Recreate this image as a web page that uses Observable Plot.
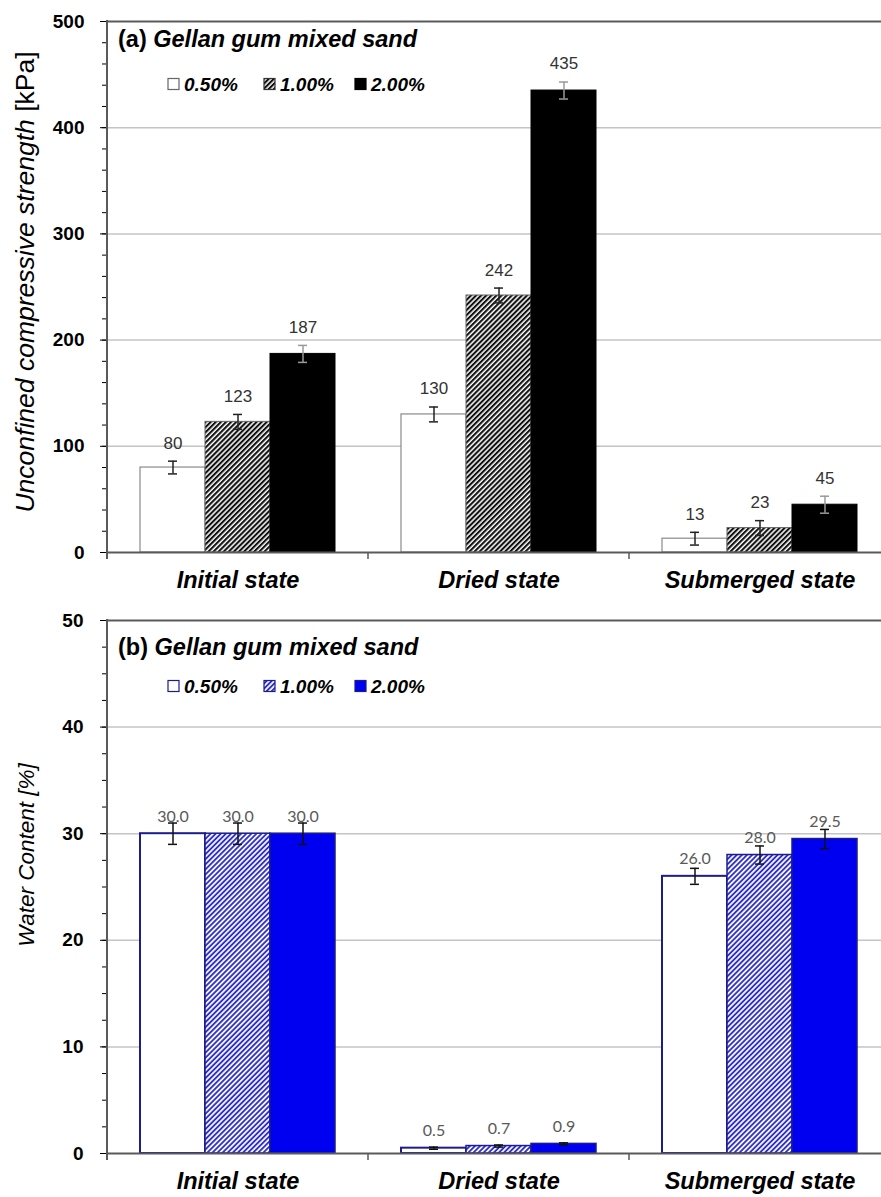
<!DOCTYPE html>
<html>
<head>
<meta charset="utf-8">
<script src="https://cdn.jsdelivr.net/npm/d3@7"></script>
<script src="https://cdn.jsdelivr.net/npm/@observablehq/plot@0.6"></script>
<style>
  html, body { margin: 0; padding: 0; background: #fff; }
  #wrap { position: relative; width: 881px; height: 1197px; overflow: hidden; background: #fff; }
  .panel { position: absolute; left: 0; }
</style>
</head>
<body>
<svg width="0" height="0" style="position:absolute">
  <defs>
    <pattern id="hatchK" patternUnits="userSpaceOnUse" width="3.6" height="3.6" patternTransform="rotate(45)">
      <rect width="3.6" height="3.6" fill="#fff"></rect>
      <line x1="1" y1="0" x2="1" y2="3.6" stroke="#111" stroke-width="2.2"></line>
    </pattern>
    <pattern id="hatchB" patternUnits="userSpaceOnUse" width="3.6" height="3.6" patternTransform="rotate(45)">
      <rect width="3.6" height="3.6" fill="#fff"></rect>
      <line x1="1" y1="0" x2="1" y2="3.6" stroke="#2424c8" stroke-width="1.8"></line>
    </pattern>
  </defs>
</svg>
<div id="wrap"></div>
<script>
// ---------------- data ----------------
const states = ["Initial state", "Dried state", "Submerged state"];
const concs = ["0.50%", "1.00%", "2.00%"];

// (a) unconfined compressive strength [kPa]
const ucsValues = [[80, 123, 187], [130, 242, 435], [13, 23, 45]];
const ucsErrors = [[6, 7, 8], [7, 7, 8], [6, 7, 8]];
const ucsTicks = [0, 100, 200, 300, 400, 500];
const ucsGrid = [100, 200, 300, 400];

// (b) water content [%]
const wcValues = [[30.0, 30.0, 30.0], [0.5, 0.7, 0.9], [26.0, 28.0, 29.5]];
const wcErrors = [[1.0, 1.0, 1.0], [0.1, 0.1, 0.1], [0.75, 0.85, 0.9]];
const wcTicks = [0, 10, 20, 30, 40, 50];
const wcGrid = [10, 20, 30, 40];

const toRows = (vals, errs) => states.flatMap((s, i) => concs.map((c, j) => ({state: s, conc: c, v: vals[i][j], e: errs[i][j]})));
const ucsRows = toRows(ucsValues, ucsErrors);
const wcRows = toRows(wcValues, wcErrors);

const FONT = "Liberation Sans, Arial, Helvetica, sans-serif";

function makePanel(cfg) {
  const marks = [
    Plot.ruleY(cfg.grid, {stroke: "#c4c4c4", strokeWidth: 1.5}),
    Plot.ruleY([cfg.yMax], {stroke: "#5a5a5a", strokeWidth: 2})
  ];
  concs.forEach((c, j) => {
    const rows = cfg.rows.filter(d => d.conc === c);
    marks.push(Plot.barY(rows, {
      fx: "state", x: "conc", y: "v",
      fill: cfg.fills[j], stroke: cfg.strokes[j], strokeWidth: cfg.strokeWidths[j]
    }));
  });
  marks.push(Plot.ruleY([0], {stroke: "#5a5a5a", strokeWidth: 2}));
  concs.forEach((c, j) => {
    const rows = cfg.rows.filter(d => d.conc === c);
    marks.push(Plot.ruleX(rows, {fx: "state", x: "conc", y1: d => d.v - d.e, y2: d => d.v + d.e, stroke: cfg.errColors[j], strokeWidth: 1.5}));
    marks.push(Plot.tickY(rows, {fx: "state", x: "conc", y: d => d.v + d.e, stroke: cfg.errColors[j], strokeWidth: 1.5, insetLeft: 28, insetRight: 28}));
    marks.push(Plot.tickY(rows, {fx: "state", x: "conc", y: d => d.v - d.e, stroke: cfg.errColors[j], strokeWidth: 1.5, insetLeft: 28, insetRight: 28}));
  });
  marks.push(Plot.text(cfg.rows, {
    fx: "state", x: "conc",
    y: d => cfg.labelAtErr ? d.v + d.e : d.v,
    dy: cfg.labelDy,
    text: d => cfg.fmt(d.v),
    fontSize: cfg.labelSize, fontFamily: cfg.labelFont, fill: cfg.labelColor
  }));
  marks.push(Plot.axisY(cfg.minor, {tickSize: 5, tickFormat: () => "", label: null}));
  marks.push(Plot.axisY(cfg.ticks, {tickSize: 7, tickPadding: cfg.tickPadding, label: null, fontSize: 19, fontWeight: "bold", fontFamily: FONT}));
  marks.push(Plot.axisFx({anchor: "bottom", tickSize: 0, tickPadding: 19, label: null, fontSize: 23.5, fontWeight: "bold", fontStyle: "italic", fontFamily: FONT}));

  const plot = Plot.plot({
    width: 881,
    height: cfg.height,
    marginLeft: 107,
    marginRight: -9,
    marginTop: cfg.marginTop,
    marginBottom: cfg.marginBottom,
    style: {fontFamily: FONT, background: "transparent", color: "#000", overflow: "visible"},
    fx: {domain: states, padding: 0, label: null},
    x: {domain: concs, paddingInner: 0, paddingOuter: 0.5, axis: null},
    y: {domain: [0, cfg.yMax], axis: null},
    marks
  });

  // decorations drawn from the library's scales
  const svg = d3.select(plot);
  const y = plot.scale("y"), fx = plot.scale("fx");
  const y0 = y.apply(0), yTop = y.apply(cfg.yMax);
  const xs = states.map(s => fx.apply(s));
  svg.append("line").attr("x1", xs[0]).attr("x2", xs[0]).attr("y1", yTop - 1).attr("y2", y0 + 7)
    .attr("stroke", "#5a5a5a").attr("stroke-width", 2);
  xs.slice(1).forEach(xx => {
    svg.append("line").attr("x1", xx).attr("x2", xx).attr("y1", y0).attr("y2", y0 + 7)
      .attr("stroke", "#5a5a5a").attr("stroke-width", 1.5);
  });

  // y-axis title
  const t = svg.append("text").attr("transform", `translate(${cfg.yTitleX},${cfg.yTitleY}) rotate(-90)`)
    .attr("text-anchor", "middle").attr("font-family", FONT).attr("font-size", cfg.yTitleSize).attr("fill", "#000");
  cfg.yTitle.forEach(([txt, italic]) => t.append("tspan").attr("font-style", italic ? "italic" : "normal").text(txt));

  // panel title
  const tt = svg.append("text").attr("x", 118).attr("y", cfg.titleY).attr("text-anchor", "start")
    .attr("font-family", FONT).attr("font-size", 23.5).attr("font-weight", "bold").attr("fill", "#000");
  tt.append("tspan").text(cfg.tag + " ");
  tt.append("tspan").attr("font-style", "italic").text("Gellan gum mixed sand");

  // legend
  const legX = [168, 264, 355];
  concs.forEach((c, j) => {
    svg.append("rect").attr("x", legX[j]).attr("y", cfg.legendY - 5.5).attr("width", 11).attr("height", 11)
      .attr("fill", cfg.fills[j]).attr("stroke", cfg.legendStrokes[j]).attr("stroke-width", 1.2);
    svg.append("text").attr("x", legX[j] + 16).attr("y", cfg.legendY).attr("dy", "0.36em").attr("text-anchor", "start")
      .attr("font-family", FONT).attr("font-size", 19).attr("font-weight", "bold").attr("font-style", "italic")
      .attr("fill", "#000").text(c);
  });
  return plot;
}

const wrap = document.getElementById("wrap");

const pa = makePanel({
  rows: ucsRows, yMax: 500, ticks: ucsTicks, minor: d3.range(0, 501, 20), grid: ucsGrid,
  fills: ["#ffffff", "url(#hatchK)", "#000000"],
  strokes: ["#8a8a8a", "#666666", "#000000"],
  strokeWidths: [1.2, 1, 1],
  legendStrokes: ["#666", "#333", "#000"],
  errColors: ["#222222", "#222222", "#9a9a9a"],
  labelAtErr: true, labelDy: -18, fmt: d3.format("d"),
  labelFont: FONT, labelSize: 17, labelColor: "#333",
  height: 600, marginTop: 21, marginBottom: 48, tickPadding: 16,
  yTitle: [["Unconfined compressive strength", true], [" [kPa]", false]],
  yTitleX: 34, yTitleY: 282, yTitleSize: 26.5,
  tag: "(a)", titleY: 47, legendY: 84
});
pa.classList.add("panel");
pa.style.top = "0px";
wrap.appendChild(pa);

const pb = makePanel({
  rows: wcRows, yMax: 50, ticks: wcTicks, minor: d3.range(0, 50.1, 2.5), grid: wcGrid,
  fills: ["#ffffff", "url(#hatchB)", "#0000f0"],
  strokes: ["#1c1c8c", "#1c1c8c", "#1c1c8c"],
  strokeWidths: [2, 1.5, 1.5],
  legendStrokes: ["#1c1c8c", "#1c1c8c", "#1c1c8c"],
  errColors: ["#111111", "#111111", "#111111"],
  labelAtErr: false, labelDy: -17, fmt: d3.format(".1f"),
  labelFont: "Lato, Carlito, sans-serif", labelSize: 16, labelColor: "#595959",
  height: 597, marginTop: 20, marginBottom: 44, tickPadding: 17,
  yTitle: [["Water Content [%]", true]],
  yTitleX: 34, yTitleY: 255, yTitleSize: 22.5,
  tag: "(b)", titleY: 55, legendY: 86
});
pb.classList.add("panel");
pb.style.top = "600px";
wrap.appendChild(pb);
</script>
</body>
</html>
